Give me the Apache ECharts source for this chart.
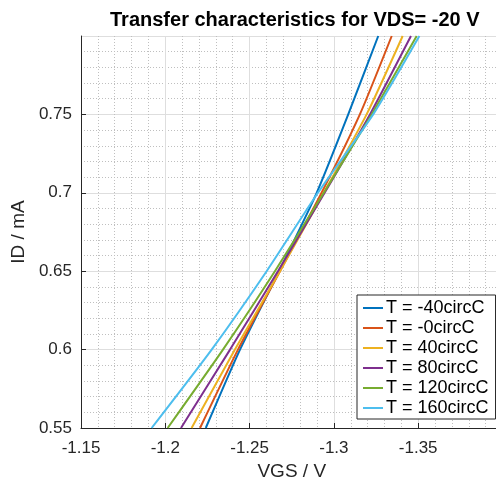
<!DOCTYPE html>
<html>
<head>
<meta charset="utf-8">
<script src="https://cdn.jsdelivr.net/npm/echarts@6/dist/echarts.min.js"></script>
<style>
  html, body { margin: 0; padding: 0; background: #fff; }
  #chart { width: 496px; height: 484px; }
</style>
</head>
<body>
<div id="chart"></div>
<script>
// Drain current levels (mA) at which the gate voltage was read
const idLevels = [0.55, 0.6, 0.65, 0.7, 0.75, 0.8];

// Gate-source voltage (V) for each temperature at the levels above
const vgsM40 = [-1.2240, -1.2443, -1.2675, -1.2898, -1.3085, -1.3263];
const vgs0   = [-1.2206, -1.2431, -1.2680, -1.2927, -1.3154, -1.3343];
const vgs40  = [-1.2156, -1.2413, -1.2680, -1.2940, -1.3194, -1.3408];
const vgs80  = [-1.2093, -1.2384, -1.2668, -1.2945, -1.3214, -1.3457];
const vgs120 = [-1.2014, -1.2342, -1.2650, -1.2940, -1.3224, -1.3491];
const vgs160 = [-1.1919, -1.2275, -1.2601, -1.2905, -1.3233, -1.3507];

const seriesNames = ['T = -40circC', 'T = -0circC', 'T = 40circC', 'T = 80circC', 'T = 120circC', 'T = 160circC'];
const seriesVgs = [vgsM40, vgs0, vgs40, vgs80, vgs120, vgs160];
const colors = ['#0072BD', '#D95319', '#EDB120', '#7E2F8E', '#77AC30', '#4DBEEE'];

const font = 'Liberation Sans, Arial, Helvetica, sans-serif';
const ink = '#262626';

const chart = echarts.init(document.getElementById('chart'), null, { renderer: 'canvas' });

chart.setOption({
  animation: false,
  color: colors,
  title: {
    text: 'Transfer characteristics for VDS= -20 V',
    left: 105,
    top: 5,
    textStyle: { fontFamily: font, fontSize: 20, fontWeight: 'bold', color: '#000' }
  },
  grid: {
    left: 81,
    top: 36,
    width: 421.5,
    height: 392,
    containLabel: false,
    outerBoundsMode: 'none'
  },
  xAxis: {
    type: 'value',
    inverse: true,
    min: -1.4,
    max: -1.15,
    interval: 0.05,
    name: 'VGS / V',
    nameLocation: 'middle',
    nameGap: 30,
    nameTextStyle: { fontFamily: font, fontSize: 19, color: ink },
    axisLine: { show: true, onZero: false, lineStyle: { color: ink, width: 1 } },
    axisTick: { show: true, inside: true, length: 5, lineStyle: { color: ink } },
    axisLabel: {
      showMinLabel: false,
      margin: 12,
      fontFamily: font, fontSize: 17, color: ink,
      formatter: v => String(Math.round(v * 100) / 100)
    },
    splitLine: { show: true, lineStyle: { color: '#dedede', width: 1 } },
    minorTick: { show: false, splitNumber: 5 },
    minorSplitLine: { show: true, lineStyle: { color: '#bfbfbf', width: 1, type: [1, 2] } }
  },
  yAxis: {
    type: 'value',
    min: 0.55,
    max: 0.8,
    interval: 0.05,
    name: 'ID / mA',
    nameLocation: 'middle',
    nameGap: 52,
    nameTextStyle: { fontFamily: font, fontSize: 19, color: ink },
    axisLine: { show: true, onZero: false, lineStyle: { color: ink, width: 1 } },
    axisTick: { show: true, inside: true, length: 5, lineStyle: { color: ink } },
    axisLabel: {
      showMaxLabel: false,
      margin: 9,
      fontFamily: font, fontSize: 17, color: ink,
      formatter: v => String(Math.round(v * 100) / 100)
    },
    splitLine: { show: true, lineStyle: { color: '#dedede', width: 1 } },
    minorTick: { show: false, splitNumber: 5 },
    minorSplitLine: { show: true, lineStyle: { color: '#bfbfbf', width: 1, type: [1, 2] } }
  },
  legend: {
    orient: 'vertical',
    left: 357,
    top: 295,
    padding: [4, 7, 2, 6],
    itemWidth: 20,
    itemHeight: 2,
    itemGap: 2,
    icon: 'rect',
    backgroundColor: '#fff',
    borderColor: ink,
    borderWidth: 1,
    borderRadius: 0,
    textStyle: { fontFamily: font, fontSize: 18, color: '#000', lineHeight: 18, padding: [0, 0, 0, -2] },
    data: seriesNames
  },
  series: seriesNames.map((name, i) => ({
    name: name,
    type: 'line',
    data: seriesVgs[i].map((v, k) => [v, idLevels[k]]),
    showSymbol: false,
    symbol: 'none',
    smooth: 0.2,
    clip: true,
    lineStyle: { width: 2, color: colors[i] },
    itemStyle: { color: colors[i] },
    z: 2 + i
  }))
});
</script>
</body>
</html>
